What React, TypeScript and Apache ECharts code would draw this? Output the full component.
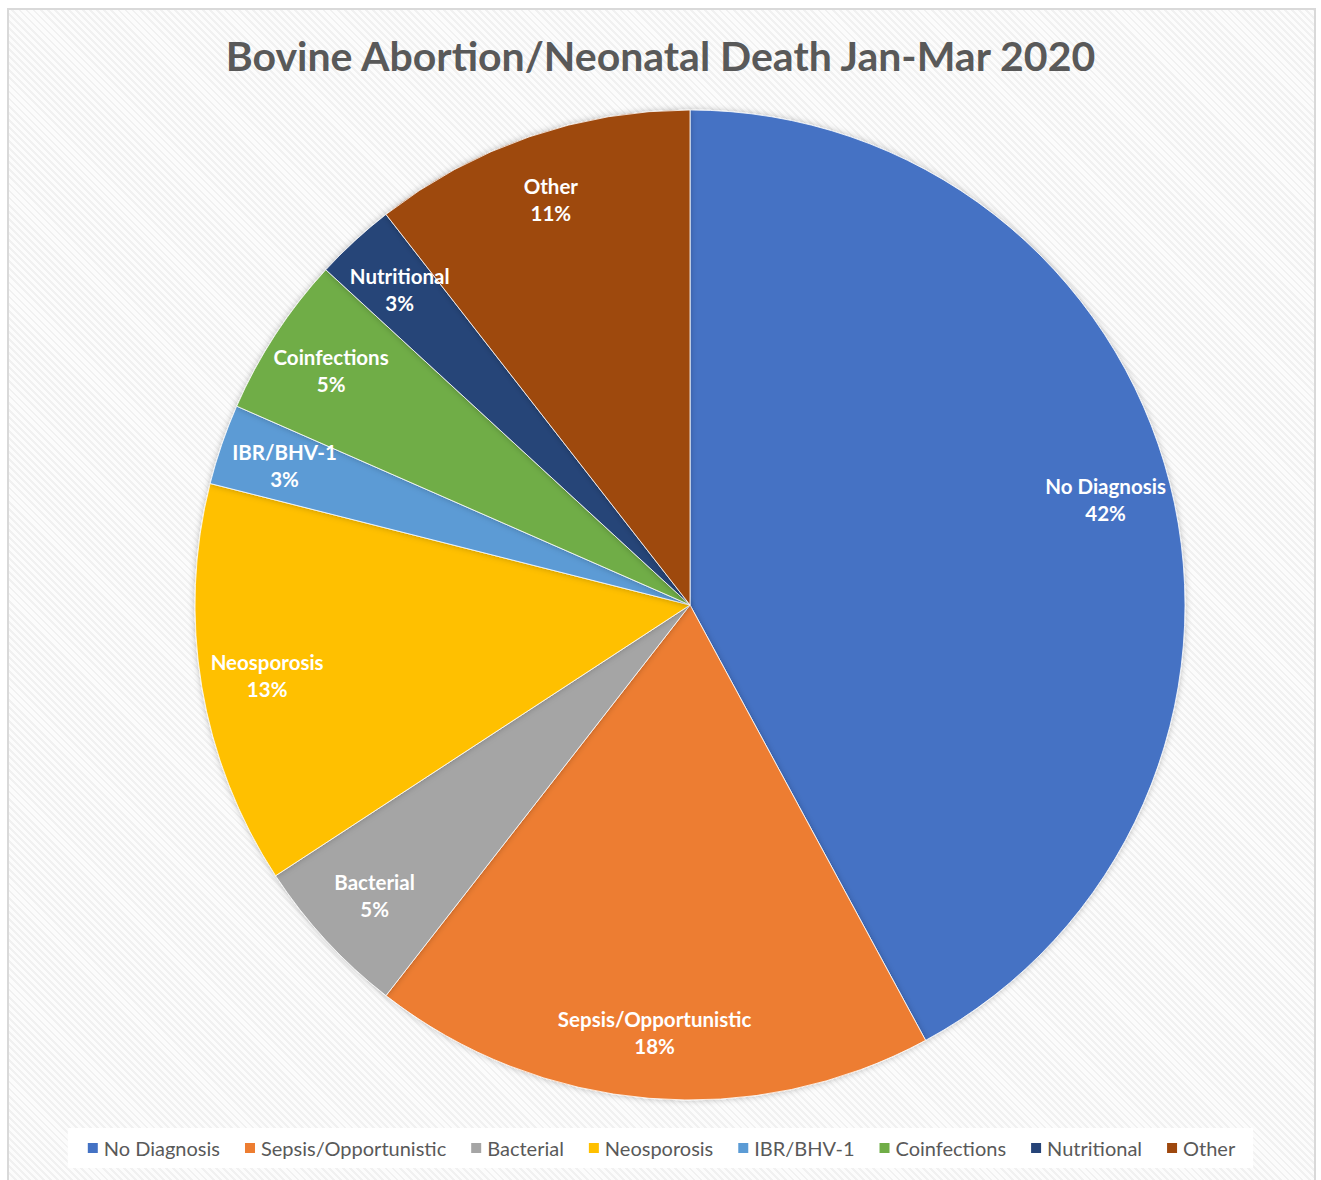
import React, { useEffect, useRef } from "react";
import * as echarts from "echarts";

const categories = [
  "No Diagnosis",
  "Sepsis/Opportunistic",
  "Bacterial",
  "Neosporosis",
  "IBR/BHV-1",
  "Coinfections",
  "Nutritional",
  "Other",
];
const counts = [16, 7, 2, 5, 1, 2, 1, 4];
const colors = ["#4472C4", "#ED7D31", "#A5A5A5", "#FFC000", "#5B9BD5", "#70AD47", "#264478", "#9E480E"];
const titleText = "Bovine Abortion/Neonatal Death Jan-Mar 2020";

export default function App() {
  const ref = useRef<HTMLDivElement>(null);
  useEffect(() => {
    if (!ref.current) return;
    const chart = echarts.init(ref.current, undefined, { renderer: "svg" });
    const data = categories.map((name, i) => ({
      name,
      value: counts[i],
      itemStyle: { color: colors[i] },
    }));
    const R = 495;
    chart.setOption({
      animation: false,
      backgroundColor: "transparent",
      title: {
        text: titleText,
        left: "center",
        top: 30,
        textStyle: {
          fontFamily: "Lato",
          fontWeight: "bold",
          fontSize: 41,
          color: "#595959",
        },
      },
      legend: {
        data: categories,
        bottom: 12,
        left: "center",
        icon: "rect",
        itemWidth: 12,
        itemHeight: 12,
        itemGap: 23,
        backgroundColor: "#ffffff",
        padding: [10, 18, 10, 18],
        textStyle: { fontFamily: "Lato", fontSize: 20, color: "#595959" },
      },
      series: [
        {
          type: "pie",
          center: [690, 605],
          radius: [0, R],
          startAngle: 90,
          clockwise: true,
          data,
          label: { show: false },
          labelLine: { show: false },
          itemStyle: {
            borderColor: "#ffffff",
            borderWidth: 0.8,
            shadowBlur: 6,
            shadowColor: "rgba(0,0,0,0.25)",
          },
          emphasis: { disabled: true },
        },
        {
          type: "pie",
          center: [690, 605],
          radius: [R * 0.72, R],
          startAngle: 90,
          clockwise: true,
          silent: true,
          legendHoverLink: false,
          data: categories.map((name, i) => ({
            name,
            value: counts[i],
            itemStyle: { color: "rgba(0,0,0,0)" },
          })),
          label: {
            show: true,
            position: "inside",
            formatter: (p: any) => `${p.name}\n${Math.round(p.percent)}%`,
            color: "#ffffff",
            fontFamily: "Lato",
            fontWeight: "bold",
            fontSize: 20.5,
            lineHeight: 27,
          },
          labelLine: { show: false },
          emphasis: { disabled: true },
        },
      ],
    });
    return () => chart.dispose();
  }, []);
  return (
    <div style={{ position: "absolute", left: 0, top: 0, width: 1321, height: 1180, background: "#ffffff", overflow: "hidden" }}>
      <div
        style={{
          position: "absolute",
          left: 7,
          top: 8,
          width: 1309,
          height: 1190,
          border: "2px solid #d9d9d9",
          boxSizing: "border-box",
          background:
            "repeating-linear-gradient(45deg, #f1f1f1 0px, #f1f1f1 2px, #fcfcfc 2px, #fcfcfc 5px)",
        }}
      />
      <div ref={ref} style={{ position: "absolute", left: 0, top: 0, width: 1321, height: 1180 }} />
    </div>
  );
}
